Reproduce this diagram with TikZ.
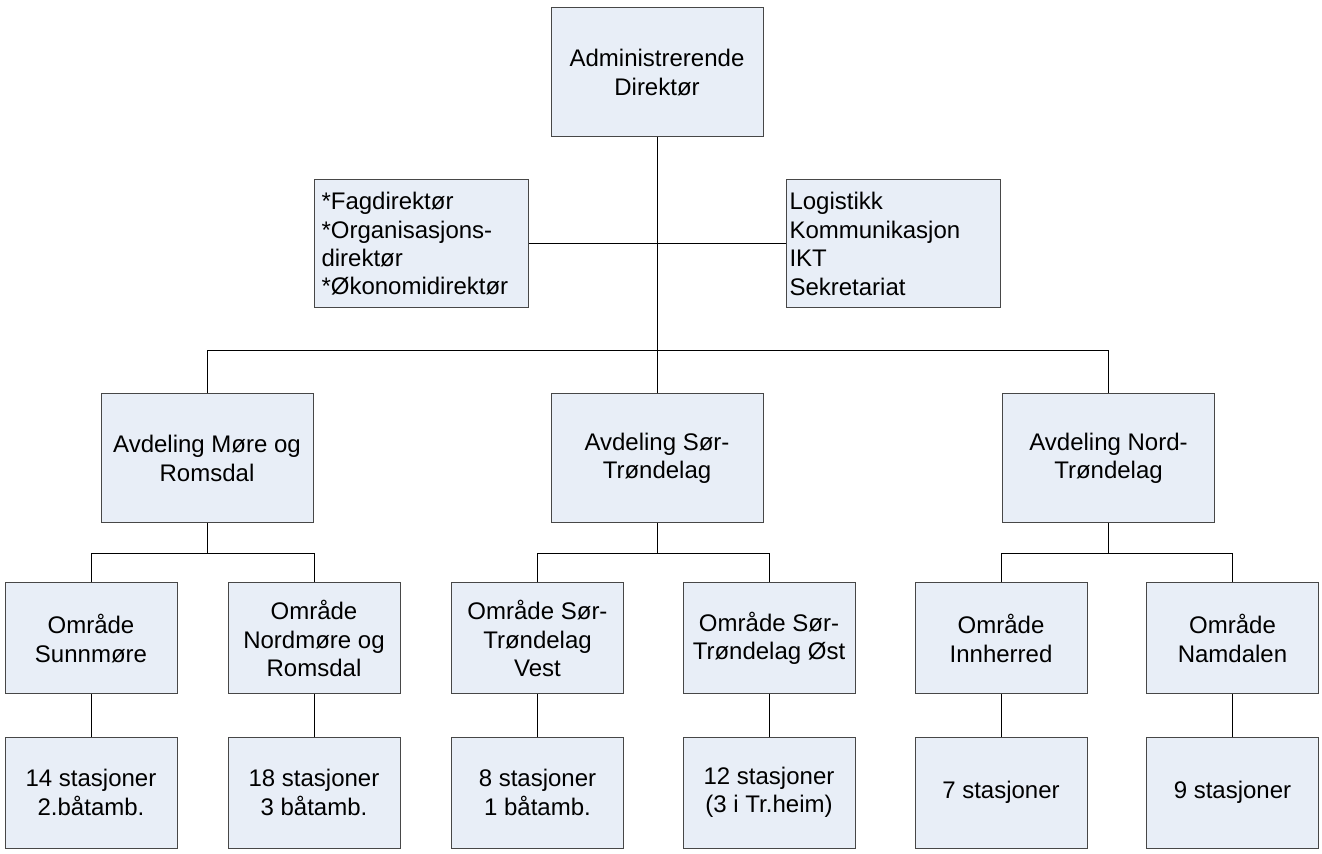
\documentclass[tikz,border=0pt]{standalone}
\usepackage{fontspec}
\setmainfont{Liberation Sans}
\usepackage{tikz}
\definecolor{boxfill}{HTML}{E8EEF7}
\definecolor{boxline}{HTML}{474747}
\tikzset{
    unit/.style={rectangle,draw=boxline,fill=boxfill,line width=0.5pt,align=center,minimum width=106pt,minimum height=64.5pt,inner sep=2pt},
    area/.style={unit,minimum width=86pt,minimum height=55.5pt},
    staff/.style={unit,align=left,inner xsep=3.5pt,text width=100pt,minimum height=64pt},
    edge/.style={draw=black,line width=0.5pt}
}

\begin{document}
\begin{tikzpicture}[x=0.5pt,y=-0.5pt,font=\fontsize{12}{14.2}\selectfont]
\useasboundingbox (0,0) rectangle (1322,854);

\node[unit] (dir) at (657, 72.5) {Administrerende\\Direktør};
\node[staff] (fag) at (421.5, 244) {*Fagdirektør\\{}*Organisasjons-\\direktør\\{}*Økonomidirektør};
\node[staff,inner xsep=1.5pt,text width=104pt] (stab) at (893.5, 244) {Logistikk\\Kommunikasjon\\IKT\\Sekretariat};

\node[unit] (mr) at (207, 458.5) {Avdeling Møre og\\Romsdal};
\node[unit] (st) at (657, 458.5) {Avdeling Sør-\\Trøndelag};
\node[unit] (nt) at (1108.5, 458.5) {Avdeling Nord-\\Trøndelag};

\node[area] (sm) at (91, 638.5) {Område\\Sunnmøre};
\node[area] (nm) at (314, 638.5) {Område\\Nordmøre og\\Romsdal};
\node[area] (stv) at (537.5, 638.5) {Område Sør-\\Trøndelag\\Vest};
\node[area] (sto) at (769, 638.5) {Område Sør-\\Trøndelag Øst};
\node[area] (inn) at (1001, 638.5) {Område\\Innherred};
\node[area] (nam) at (1232.5, 638.5) {Område\\Namdalen};

\node[area] (sm4) at (91, 792.5) {14 stasjoner\\2.båtamb.};
\node[area] (nm4) at (314, 792.5) {18 stasjoner\\3 båtamb.};
\node[area] (stv4) at (537.5, 792.5) {8 stasjoner\\1 båtamb.};
\node[area] (sto4) at (769, 792.5) {12 stasjoner\\(3 i Tr.heim)};
\node[area] (inn4) at (1001, 792.5) {7 stasjoner};
\node[area] (nam4) at (1232.5, 792.5) {9 stasjoner};

\coordinate (top) at (657, 351);
\coordinate (low) at (657, 554);

\draw[edge] (dir.south) -- (dir.south |- top);
\draw[edge] (fag.east) -- (stab.west);
\draw[edge] (mr.north) -- (mr |- top) -- (nt |- top) -- (nt.north);
\draw[edge] (st.north) -- (st |- top);

\draw[edge] (mr.south) -- (mr |- low);
\draw[edge] (st.south) -- (st |- low);
\draw[edge] (nt.south) -- (nt |- low);
\draw[edge] (sm.north) -- (sm |- low) -- (nm |- low) -- (nm.north);
\draw[edge] (stv.north) -- (stv |- low) -- (sto |- low) -- (sto.north);
\draw[edge] (inn.north) -- (inn |- low) -- (nam |- low) -- (nam.north);

\draw[edge] (sm) -- (sm4);
\draw[edge] (nm) -- (nm4);
\draw[edge] (stv) -- (stv4);
\draw[edge] (sto) -- (sto4);
\draw[edge] (inn) -- (inn4);
\draw[edge] (nam) -- (nam4);
\end{tikzpicture}
\end{document}
